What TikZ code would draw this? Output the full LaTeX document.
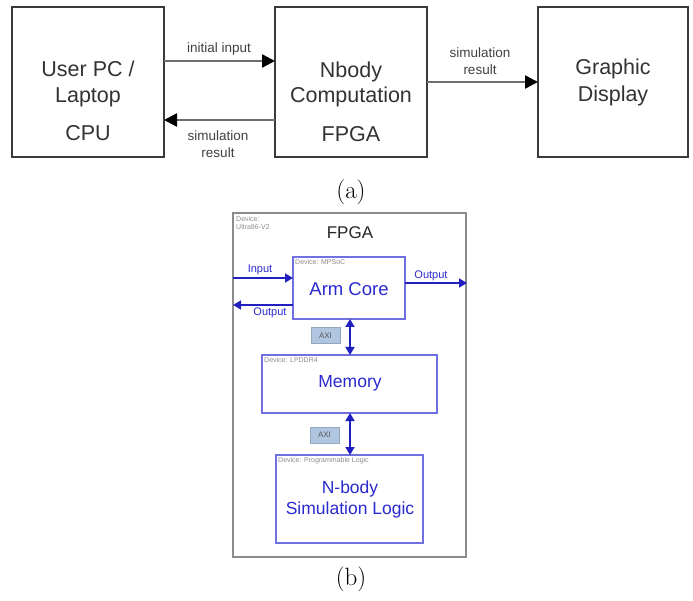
\documentclass[tikz,border=0pt]{standalone}
\usepackage{fontspec}
\setmainfont{Latin Modern Roman}
\newfontfamily\helv{Liberation Sans}
\usetikzlibrary{arrows.meta}
\definecolor{boxline}{HTML}{3A3A3A}
\definecolor{flowline}{HTML}{6E6E6E}
\definecolor{blk}{HTML}{7070E0}
\definecolor{bluetxt}{HTML}{2A2AD0}
\definecolor{bluearr}{HTML}{2020C0}
\definecolor{axifill}{HTML}{B0C6E0}
\tikzset{
  x=1pt, y=-1pt,
  sysbox/.style={draw=boxline, line width=1.8pt, fill=white},
  flow/.style={draw=flowline, line width=2.4pt, -{Triangle[length=13pt,width=13pt,color=black,fill=black]}},
  bigtxt/.style={font=\helv\fontsize{21.5}{24}\selectfont, text=black!80, align=center},
  smalltxt/.style={font=\helv\fontsize{13.5}{16}\selectfont, text=black!75, align=center},
  blkbox/.style={draw=blk, line width=1.4pt, fill=white},
  bluebig/.style={font=\helv\fontsize{17.5}{21}\selectfont, text=bluetxt, align=center},
  bluesmall/.style={font=\helv\fontsize{11}{13}\selectfont, text=bluetxt},
  devtxt/.style={font=\helv\fontsize{7}{8.5}\selectfont, text=black!45, anchor=north west, align=left, inner sep=1pt},
  barr/.style={draw=bluearr, line width=1.6pt, -{Triangle[length=8pt,width=9pt]}},
  dbarr/.style={draw=bluearr, line width=1.6pt, {Triangle[length=8pt,width=9pt]}-{Triangle[length=8pt,width=9pt]}},
  axibox/.style={fill=axifill, draw=axifill!85!black, line width=0.4pt, minimum width=29pt, minimum height=16pt, inner sep=0pt, font=\helv\fontsize{8}{9}\selectfont, text=black!65},
  caption/.style={font=\fontsize{25}{29}\selectfont}
}
\begin{document}
\begin{tikzpicture}
\useasboundingbox (0,0) rectangle (693,601);

% ---------- (a) system overview ----------
\draw[sysbox] (12,7) rectangle (164,157);
\draw[sysbox] (275,7) rectangle (427,157);
\draw[sysbox] (538,7) rectangle (688,157);
\coordinate (pcE1) at (164,61);
\coordinate (fpE1) at (275,61);
\coordinate (pcE2) at (164,120);
\coordinate (fpE2) at (275,120);
\coordinate (fpE3) at (427,82);
\coordinate (gdW) at (538,82);

\node[bigtxt] (pc) at (88,83.5) {User PC /\\[2pt]Laptop};
\node[bigtxt] (cpu) at (88,133) {CPU};
\node[bigtxt] (nb) at (351,84) {Nbody\\[1pt]Computation};
\node[bigtxt] (fpga) at (351,134) {FPGA};
\node[bigtxt] (gd) at (613,82) {Graphic\\[3pt]Display};

\draw[flow] (pcE1) -- (fpE1);
\draw[flow] (fpE2) -- (pcE2);
\draw[flow] (fpE3) -- (gdW);
\node[smalltxt] (l1) at (219,49) {initial input};
\node[smalltxt] (l2) at (218,144) {simulation\\[1pt]result};
\node[smalltxt] (l3) at (480,61) {simulation\\[1pt]result};

\node[caption] (capa) at (351,192) {(a)};

% ---------- (b) FPGA internals ----------
\draw[draw=black!45, line width=2.6pt, fill=white] (233,213) rectangle (466,557);
\node[devtxt] (dev0) at (235,215) {Device:\\Ultra96-V2};
\node[font=\helv\fontsize{17}{20}\selectfont, text=black!85] (ftitle) at (350,233) {FPGA};

\draw[blkbox] (293,257) rectangle (405,319);
\node[devtxt] (dev1) at (294,258) {Device: MPSoC};
\node[bluebig, font=\helv\fontsize{18.5}{22}\selectfont] (arm) at (349,289) {Arm Core};

\draw[blkbox] (262,355) rectangle (437,413);
\node[devtxt] (dev2) at (263,356) {Device: LPDDR4};
\node[bluebig] (mem) at (350,383) {Memory};

\draw[blkbox] (276,455) rectangle (423,543);
\node[devtxt] (dev3) at (277,456) {Device: Programmable Logic};
\node[bluebig] (nbl) at (350,499) {N-body\\Simulation Logic};

\coordinate (inL) at (233,278);
\coordinate (inR) at (293,278);
\coordinate (outL) at (233,305);
\coordinate (outR) at (293,305);
\coordinate (oR1) at (405,283);
\coordinate (oR2) at (467,283);
\draw[barr] (inL) -- (inR);
\draw[barr] (outR) -- (outL);
\draw[barr] (oR1) -- (oR2);
\node[bluesmall] (tin) at (260,270) {Input};
\node[bluesmall] (tout1) at (270,313) {Output};
\node[bluesmall] (tout2) at (431,276) {Output};

\coordinate (a1) at (350,319);
\coordinate (a2) at (350,355);
\coordinate (a3) at (350,413);
\coordinate (a4) at (350,455);
\draw[dbarr] (a1) -- (a2);
\draw[dbarr] (a3) -- (a4);
\node[axibox] (axi1) at (325.5,335.5) {AXI};
\node[axibox] (axi2) at (324.5,435) {AXI};

\node[caption] (capb) at (351,579) {(b)};
\end{tikzpicture}
\end{document}
